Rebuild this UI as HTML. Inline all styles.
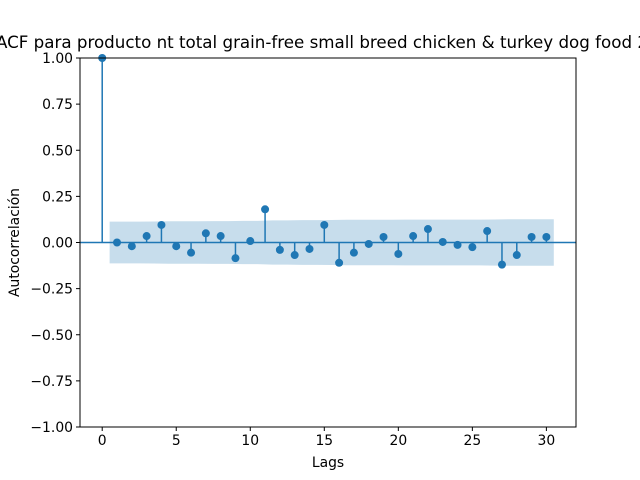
<!DOCTYPE html>
<html><head><meta charset="utf-8"><style>
body{margin:0;background:#fff;}
svg{display:block;font-family:"DejaVu Sans","Liberation Sans",sans-serif;}
</style></head><body>
<svg id="chart" width="640" height="480" viewBox="0 0 640 480" xmlns="http://www.w3.org/2000/svg">
<rect width="640" height="480" fill="#fff"/>
<g id="plot"></g>
</svg>
<script>
const lags=[0,1,2,3,4,5,6,7,8,9,10,11,12,13,14,15,16,17,18,19,20,21,22,23,24,25,26,27,28,29,30];
const acfValues=[1,0.0,-0.02,0.035,0.095,-0.02,-0.055,0.05,0.035,-0.085,0.008,0.18,-0.04,-0.068,-0.035,0.095,-0.11,-0.055,-0.008,0.03,-0.062,0.035,0.073,0.003,-0.013,-0.025,0.062,-0.12,-0.068,0.03,0.03];
const confBand=[0,0.113,0.113,0.113,0.114,0.115,0.115,0.115,0.116,0.116,0.117,0.117,0.12,0.12,0.121,0.121,0.122,0.123,0.123,0.123,0.123,0.124,0.124,0.124,0.124,0.124,0.124,0.125,0.126,0.126,0.126];
const xTicks=[0,5,10,15,20,25,30];
const yTicks=[-1,-0.75,-0.5,-0.25,0,0.25,0.5,0.75,1];
const yTickLabels=["\u22121.00","\u22120.75","\u22120.50","\u22120.25","0.00","0.25","0.50","0.75","1.00"];
const L=80,R=576,T=58,B=427,xmin=-1.5,xmax=32,ymin=-1,ymax=1;
const X=v=>L+(v-xmin)/(xmax-xmin)*(R-L);
const Y=v=>B-(v-ymin)/(ymax-ymin)*(B-T);
const NS="http://www.w3.org/2000/svg";
const g=document.getElementById('plot');
function mk(tag,attrs,parent){const e=document.createElementNS(NS,tag);for(const k in attrs)e.setAttribute(k,attrs[k]);(parent||g).appendChild(e);return e;}
let up=[],dn=[];
for(let i=1;i<lags.length;i++){up.push(X(lags[i]-0.5)+','+Y(confBand[i]));dn.unshift(X(lags[i]-0.5)+','+Y(-confBand[i]));}
const last=lags.length-1;
up.push(X(lags[last]+0.5)+','+Y(confBand[last]));dn.unshift(X(lags[last]+0.5)+','+Y(-confBand[last]));
const band=mk('polygon',{points:up.concat(dn).join(' '),fill:'#1f77b4','fill-opacity':0.25,stroke:'none'});


const zl=mk('line',{x1:L,x2:R,y1:Y(0),y2:Y(0),stroke:'#1f77b4','stroke-width':1.5});


for(let i=0;i<lags.length;i++){
  const s=mk('line',{x1:X(lags[i]),x2:X(lags[i]),y1:Y(0),y2:Y(acfValues[i]),stroke:'#1f77b4','stroke-width':1.5});
  
  
  const c=mk('circle',{cx:X(lags[i]),cy:Y(acfValues[i]),r:4,fill:'#1f77b4'});
  
  
}
const fr=mk('rect',{x:L,y:T,width:R-L,height:B-T,fill:'none',stroke:'#000','stroke-width':1});


xTicks.forEach(t=>{
  mk('line',{x1:X(t),x2:X(t),y1:B,y2:B+4,stroke:'#000'});
  const tx=mk('text',{x:X(t),y:B+18,'font-size':'13.9px','text-anchor':'middle'});tx.textContent=t;
  
  
});
yTicks.forEach((t,i)=>{
  mk('line',{x1:L-4,x2:L,y1:Y(t),y2:Y(t),stroke:'#000'});
  const tx=mk('text',{x:L-7,y:Y(t)+5,'font-size':'13.9px','text-anchor':'end'});tx.textContent=yTickLabels[i];
  
  
});
</script>
<svg style="position:absolute;left:0;top:0" width="640" height="480" xmlns="http://www.w3.org/2000/svg" font-family="DejaVu Sans, Liberation Sans, sans-serif">
<text x="-4" y="48" font-size="16.7px" text-anchor="start">ACF para producto nt total grain-free small breed chicken &amp; turkey dog food 2 lb</text>
<text x="328" y="467" font-size="13.9px" text-anchor="middle">Lags</text>
<text x="0" y="0" font-size="13.9px" text-anchor="middle" transform="translate(19,242.5) rotate(-90)">Autocorrelación</text>
</svg>
</body></html>
